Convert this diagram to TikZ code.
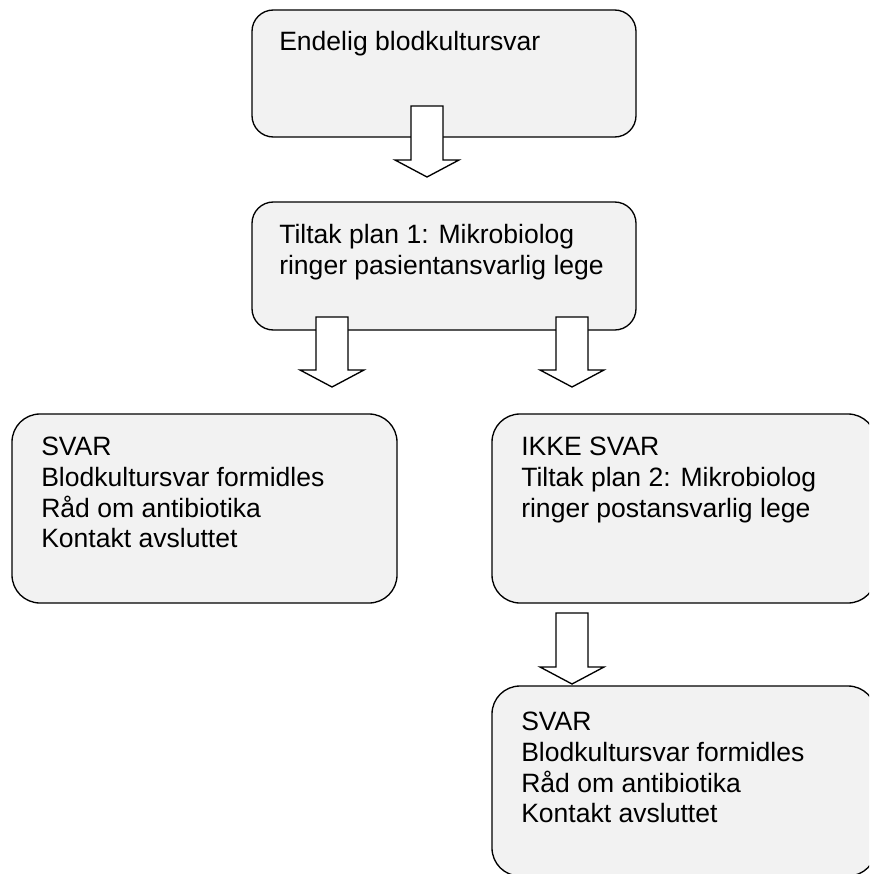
\documentclass[tikz,border=0pt]{standalone}
\usepackage{fontspec}
\setmainfont{Liberation Sans}
\usetikzlibrary{calc}
\definecolor{boxgray}{HTML}{F2F2F2}
\newcommand{\blockarrow}[2]{%
  \draw[arrowshape] ($(#1)+(-16,0)$) -- ($(#1)+(16,0)$) -- ($(#2)+(16,-17)$) -- ($(#2)+(32,-17)$) -- (#2) -- ($(#2)+(-32,-17)$) -- ($(#2)+(-16,-17)$) -- cycle;}

\begin{document}
\begin{tikzpicture}[x=0.75pt, y=-0.75pt,
  flowbox/.style={draw=black, fill=boxgray, line width=1pt, inner sep=0pt},
  boxtext/.style={anchor=north west, align=left, inner sep=0pt, font=\fontsize{19.9}{23}\selectfont},
  arrowshape/.style={draw=black, fill=white, line width=1pt, line join=miter}]
\useasboundingbox (0,0) rectangle (869,874);
\clip (0,0) rectangle (869,874);
\node[flowbox, rounded corners=16pt, minimum width=288pt, minimum height=95.25pt] (final) at (444,73.5) {};
\node[flowbox, rounded corners=16pt, minimum width=288pt, minimum height=96pt] (plan1) at (444,266) {};
\node[flowbox, rounded corners=21pt, minimum width=288.75pt, minimum height=141.75pt] (svarleft) at (204.5,508.5) {};
\node[flowbox, rounded corners=21pt, minimum width=288pt, minimum height=141.75pt] (plan2) at (684,508.5) {};
\node[flowbox, rounded corners=21pt, minimum width=288pt, minimum height=142.5pt] (svarright) at (684,781) {};
\node[boxtext] (finaltext) at (279,31) {Endelig blodkultursvar};
\node[boxtext] (plan1text) at (279,224) {Tiltak plan 1: Mikrobiolog\\ringer pasientansvarlig lege};
\node[boxtext] (svarlefttext) at (41,437) {SVAR\\Blodkultursvar formidles\\Råd om antibiotika\\Kontakt avsluttet};
\node[boxtext] (plan2text) at (521,437) {IKKE SVAR\\Tiltak plan 2: Mikrobiolog\\ringer postansvarlig lege};
\node[boxtext] (svarrighttext) at (521,712) {SVAR\\Blodkultursvar formidles\\Råd om antibiotika\\Kontakt avsluttet};
% block arrows
\coordinate (a1s) at (427,106);
\coordinate (a1e) at (427,177);
\coordinate (a2s) at (332,317);
\coordinate (a2e) at (332,387);
\coordinate (a3s) at (572,317);
\coordinate (a3e) at (572,387);
\coordinate (a4s) at (572,613);
\coordinate (a4e) at (572,684);
\blockarrow{a1s}{a1e}
\blockarrow{a2s}{a2e}
\blockarrow{a3s}{a3e}
\blockarrow{a4s}{a4e}
\end{tikzpicture}
\end{document}
